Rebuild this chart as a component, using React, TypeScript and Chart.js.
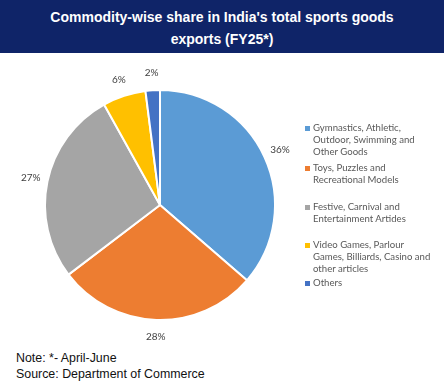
import React, { useEffect, useRef } from "react";
import { Chart, registerables } from "chart.js";

Chart.register(...registerables);

const categories: string[] = [
  "Gymnastics, Athletic, Outdoor, Swimming and Other Goods",
  "Toys, Puzzles and Recreational Models",
  "Festive, Carnival and Entertainment Artides",
  "Video Games, Parlour Games, Billiards, Casino and other articles",
  "Others",
];
const legendLines: string[][] = [
  ["Gymnastics, Athletic,", "Outdoor, Swimming and", "Other Goods"],
  ["Toys, Puzzles and", "Recreational Models"],
  ["Festive, Carnival and", "Entertainment Artides"],
  ["Video Games, Parlour", "Games, Billiards, Casino and", "other articles"],
  ["Others"],
];
const shares: number[] = [36, 28, 27, 6, 2];
const colors: string[] = ["#5B9BD5", "#ED7D31", "#A5A5A5", "#FFC000", "#4472C4"];
const legendTops: number[] = [122, 162, 201, 239, 277];

const outsideLabels = {
  id: "outsideLabels",
  afterDatasetsDraw(chart: any) {
    const ctx = chart.ctx;
    const meta = chart.getDatasetMeta(0);
    ctx.save();
    ctx.font = "10px 'Lato', sans-serif";
    ctx.fillStyle = "#404040";
    ctx.textAlign = "center";
    ctx.textBaseline = "middle";
    meta.data.forEach((arc: any, i: number) => {
      const p = arc.getProps(["startAngle", "endAngle", "outerRadius", "x", "y"], true);
      const mid = (p.startAngle + p.endAngle) / 2;
      const r = p.outerRadius + 17;
      ctx.fillText(shares[i] + "%", p.x + r * Math.cos(mid), p.y + r * Math.sin(mid));
    });
    ctx.restore();
  },
};

export default function App() {
  const ref = useRef<HTMLCanvasElement>(null);
  useEffect(() => {
    if (!ref.current) return;
    const chart = new Chart(ref.current, {
      type: "pie",
      data: {
        labels: categories,
        datasets: [
          {
            data: shares,
            backgroundColor: colors,
            borderColor: "#ffffff",
            borderWidth: 2,
          },
        ],
      },
      options: {
        animation: false,
        responsive: false,
        maintainAspectRatio: false,
        layout: { padding: { left: 44, right: 44, top: 24, bottom: 24 } },
        plugins: {
          legend: { display: false },
          tooltip: { enabled: false },
          title: { display: false },
        },
      },
      plugins: [outsideLabels],
    });
    return () => chart.destroy();
  }, []);

  return (
    <div
      style={{
        position: "absolute",
        left: 0,
        top: 0,
        width: 444,
        height: 388,
        background: "#ffffff",
        overflow: "hidden",
      }}
    >
      <div
        style={{
          position: "absolute",
          left: 0,
          top: 0,
          width: 444,
          height: 53,
          background: "#0f2468",
          color: "#ffffff",
          fontFamily: "'Liberation Sans', Arial, sans-serif",
          fontWeight: "bold",
          fontSize: 14,
          lineHeight: "22px",
          textAlign: "center",
          paddingTop: 6,
          boxSizing: "border-box",
        }}
      >
        Commodity-wise share in India's total sports goods
        <br />
        exports (FY25*)
      </div>
      <canvas
        ref={ref}
        width={320}
        height={280}
        style={{ position: "absolute", left: 0, top: 65, width: 320, height: 280 }}
      />
      {legendLines.map((lines, i) => (
        <div
          key={i}
          style={{
            position: "absolute",
            left: 305,
            top: legendTops[i],
            fontFamily: "'Lato', sans-serif",
            fontSize: 9.6,
            lineHeight: "12px",
            color: "#595959",
          }}
        >
          <span
            style={{
              position: "absolute",
              left: 0,
              top: 4,
              width: 5,
              height: 5,
              background: colors[i],
            }}
          />
          <div style={{ marginLeft: 8, whiteSpace: "nowrap" }}>
            {lines.map((l, j) => (
              <div key={j}>{l}</div>
            ))}
          </div>
        </div>
      ))}
      <div
        style={{
          position: "absolute",
          left: 16,
          top: 350,
          fontFamily: "'Liberation Sans', Arial, sans-serif",
          fontSize: 12.4,
          lineHeight: "16px",
          color: "#111111",
        }}
      >
        Note: *- April-June
        <br />
        Source: Department of Commerce
      </div>
    </div>
  );
}
